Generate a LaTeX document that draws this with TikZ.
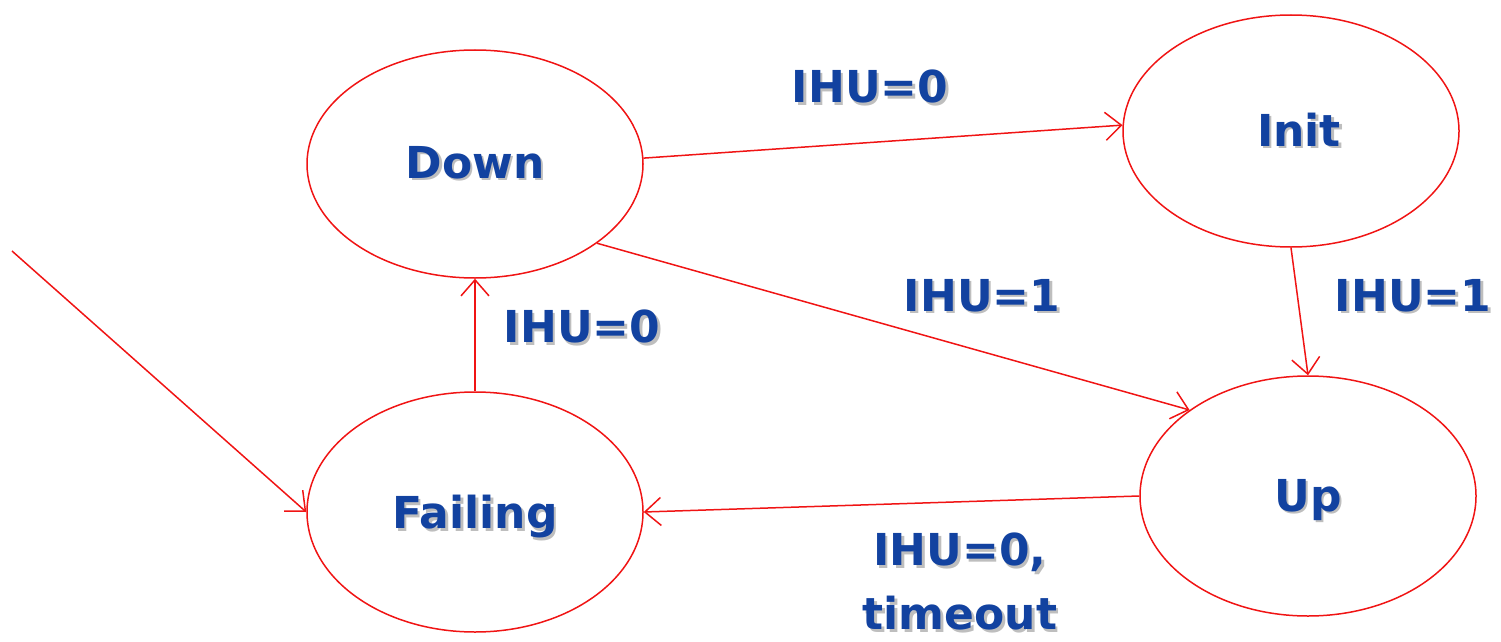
\documentclass[tikz,border=0pt]{standalone}
\usepackage{fontspec}
\setmainfont{DejaVu Sans}
\usetikzlibrary{shapes.geometric,arrows.meta}
\definecolor{txtblue}{RGB}{18,66,160}
\definecolor{shadowc}{RGB}{190,190,190}
\definecolor{edgered}{RGB}{240,20,20}
\newcommand\sh[1]{\rlap{\hspace{2.5pt}\raisebox{-2.5pt}{\color{shadowc}#1}}#1}
\tikzset{
  state/.style={ellipse, draw=edgered, line width=1.5pt, minimum width=336pt, minimum height=230pt, inner sep=0pt,
     font=\fontsize{44}{50}\selectfont\bfseries, text=txtblue},
  lbl/.style={font=\fontsize{44}{64}\selectfont\bfseries, text=txtblue, align=center, inner sep=0pt},
  edge/.style={draw=edgered, line width=1.5pt, -{Straight Barb[length=16pt,width=28pt,line width=1.5pt]}},
}
\begin{document}
\begin{tikzpicture}[x=1pt,y=-1pt]
\useasboundingbox (0,0) rectangle (1501,642);
\node[state, minimum height=228pt] (down) at (475,164) {\sh{Down}};
\node[state, minimum height=232pt] (init) at (1291,131) {\hspace{16pt}\sh{Init}};
\node[state, minimum height=240pt] (fail) at (475,512) {\raisebox{-6pt}[\height][\depth]{\sh{Failing}}};
\node[state, minimum height=240pt] (up) at (1308,496) {\raisebox{-5pt}[\height][\depth]{\sh{Up}}};
\coordinate (start) at (12,251);

\draw[edge] (down.2) -- (init.178);
\draw[edge] (down.-33.8) -- (up.144.2);
\draw[edge] (init.-90) -- (up.90);
\draw[edge] (up.180) -- (fail.0);
\draw[edge] (fail.90) -- (down.-90);
\draw[edge] (start) -- (fail.180);

\node[lbl] (l1) at (870,88) {\sh{IHU=0}};
\node[lbl] (l2) at (982,297) {\sh{IHU=1}};
\node[lbl] (l3) at (1413,297) {\sh{IHU=1}};
\node[lbl] (l4) at (582,328) {\sh{IHU=0}};
\node[lbl] (l5) at (960,583) {\sh{IHU=0,}\\\sh{timeout}};
\end{tikzpicture}
\end{document}
